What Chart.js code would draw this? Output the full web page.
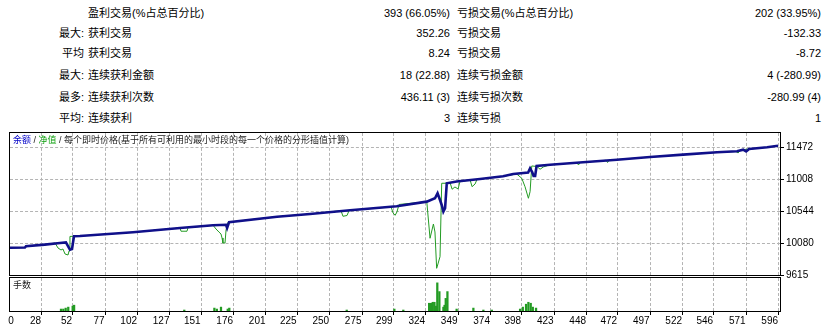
<!DOCTYPE html>
<html>
<head>
<meta charset="utf-8">
<title>测试报告</title>
<script src="https://cdn.jsdelivr.net/npm/chart.js@4.4.1/dist/chart.umd.min.js"></script>
<style>
  html, body { margin: 0; padding: 0; background: #fff; }
  body {
    position: relative; width: 830px; height: 331px; overflow: hidden;
    font-family: "Liberation Sans", "Noto Sans CJK SC", sans-serif; font-size: 11px; color: #000;
  }
  .cell { position: absolute; white-space: nowrap; line-height: 14px; }
  .gl { position: absolute; }
  canvas { position: absolute; left: 0; }
  #main { top: 120px; }
  #vol { top: 270px; }
  .tag { position: absolute; font-size: 9px; line-height: 11px; white-space: nowrap; color: #222; }
</style>
</head>
<body>
<div id="grid"></div>
<div id="stats"></div>
<canvas id="main" width="830" height="168"></canvas>
<canvas id="vol" width="830" height="61"></canvas>
<div class="tag" style="left:13px;top:135px"><span style="color:#0000c8">余额</span> / <span style="color:#10a010">净值</span> / 每个即时价格(基于所有可利用的最小时段的每一个价格的分形插值计算)</div>
<div class="tag" style="left:13px;top:280px">手数</div>
<script>
// summary table
const statPrefix = ['', '最大:', '平均', '最大:', '最多:', '平均:'];
const winLabels = ['盈利交易(%占总百分比)', '获利交易', '获利交易', '连续获利金额', '连续获利次数', '连续获利'];
const winValues = ['393 (66.05%)', '352.26', '8.24', '18 (22.88)', '436.11 (3)', '3'];
const lossLabels = ['亏损交易(%占总百分比)', '亏损交易', '亏损交易', '连续亏损金额', '连续亏损次数', '连续亏损'];
const lossValues = ['202 (33.95%)', '-132.33', '-8.72', '4 (-280.99)', '-280.99 (4)', '1'];

// balance / equity curve (trade number -> account value)
const balanceTrades = [4.1, 15.6, 16.4, 30.9, 42.6, 47.2, 50.3, 51.9, 53.4, 58.0, 98.9, 135.1, 160.6, 170.6, 171.4, 172.9,
  209.9, 235.3, 266.2, 302.1, 325.3, 331.6, 333.6, 335.5, 336.8, 338.1, 339.4, 340.7, 348.3, 366.3, 384.1, 391.9,
  403.4, 404.9, 406.5, 407.6, 408.8, 409.9, 420.3, 445.7, 471.9, 497.4, 522.8, 549.0, 564.4, 569.1, 571.4, 573.7,
  587.6, 596.0];
const balanceValues = [10010, 10014, 10031, 10055, 10079, 10087, 9982, 9992, 10177, 10181, 10235, 10297, 10336, 10343, 10297, 10380,
  10461, 10500, 10554, 10612, 10679, 10728, 10800, 10703, 10631, 10534, 10583, 10946, 10972, 11008, 11047, 11080,
  11102, 11163, 11109, 11051, 11051, 11196, 11215, 11250, 11288, 11327, 11361, 11395, 11410, 11433, 11407, 11443,
  11468, 11491];

const equityTrades = [4.1, 15.6, 16.4, 30.9, 38.8, 41.1, 43.4, 44.9, 46.5, 48.8, 49.6, 50.3, 53.4, 58.0, 98.9, 135.1,
  135.9, 140.5, 141.3, 160.6, 162.9, 165.1, 166.7, 167.5, 168.2, 169.8, 170.6, 172.1, 209.9, 235.3, 259.2, 260.7,
  263.8, 265.5, 297.8, 299.3, 300.9, 302.3, 303.9, 325.3, 327.8, 330.4, 331.6, 332.9, 333.9, 335.5, 336.8, 340.7,
  343.2, 344.8, 347.0, 349.4, 350.9, 358.7, 360.2, 362.5, 364.0, 384.1, 394.6, 398.5, 401.0, 403.6, 404.9, 406.2,
  410.2, 412.6, 415.1, 420.3, 441.1, 442.2, 443.4, 463.5, 464.6, 465.8, 497.4, 522.8, 549.0, 563.6, 565.2, 566.7,
  569.1, 573.7, 587.6, 596.0];
const equityValues = [10010, 10014, 10031, 10055, 10079, 10007, 9978, 9992, 9920, 9905, 9963, 10174, 10177, 10181, 10235, 10297,
  10250, 10250, 10304, 10336, 10282, 10239, 10210, 10152, 10079, 10079, 10268, 10380, 10461, 10500, 10548, 10467,
  10478, 10554, 10602, 10515, 10481, 10529, 10638, 10679, 10148, 10355, 10239, 9712, 9775, 9881, 10946, 10946,
  10957, 10859, 10892, 10863, 10972, 10993, 10896, 10935, 11001, 11047, 11080, 11018, 10896, 10728, 10824, 11197,
  11189, 11149, 11182, 11215, 11243, 11211, 11246, 11279, 11247, 11281, 11327, 11361, 11395, 11407, 11385, 11421,
  11433, 11443, 11468, 11491];

// lots per trade
const volumeTrades = [43.4, 45.2, 47.0, 49.0, 52.4, 53.5, 138.4, 161.6, 163.5, 166.7, 171.9, 173.1, 263.6, 300.3, 307.2,
  327.1, 328.6, 329.9, 331.2, 332.5, 333.4, 335.0, 338.1, 339.0, 339.9, 341.2, 348.3, 361.2, 368.9, 375.4,
  397.2, 399.3, 401.8, 403.6, 405.4, 407.0, 409.5];
const volumeLots = [0.02, 0.02, 0.03, 0.04, 0.05, 0.06, 0.01, 0.03, 0.02, 0.04, 0.02, 0.03, 0.01, 0.02, 0.01,
  0.08, 0.08, 0.09, 0.09, 0.05, 0.29, 0.20, 0.04, 0.06, 0.13, 0.20, 0.02, 0.03, 0.01, 0.01,
  0.02, 0.04, 0.07, 0.09, 0.08, 0.04, 0.03];

const xTickLabels = [0, 28, 52, 77, 102, 127, 151, 176, 201, 225, 250, 275, 299, 324, 349, 374, 398, 423, 448, 472, 497, 522, 546, 571, 596];
const yTickValues = [9615, 10080, 10544, 11008, 11472];

const xMin = 4.1, xMax = 597.5;
const gridGray = '#b4b4b4';
const axisFont = { family: 'Liberation Sans', size: 10 };

// table
const stats = document.getElementById('stats');
const rowMid = [13, 33, 53, 75, 97, 118];
function cell(text, y, left, right) {
  const d = document.createElement('div');
  d.className = 'cell';
  d.textContent = text;
  d.style.top = y + 'px';
  if (left != null) d.style.left = left + 'px';
  else { d.style.right = (830 - right) + 'px'; d.style.textAlign = 'right'; }
  stats.appendChild(d);
}
statPrefix.forEach((p, i) => {
  const y = rowMid[i] - 7;
  if (p) cell(p, y, null, 84);
  cell(winLabels[i], y, 88);
  cell(winValues[i], y, null, 450);
  cell(lossLabels[i], y, 457);
  cell(lossValues[i], y, null, 821);
});

// black frame round each plot area
const framePlugin = {
  id: 'frame',
  afterDraw(chart) {
    const { ctx, chartArea: a } = chart;
    const l = Math.round(a.left), r = Math.round(a.right), t = Math.round(a.top), b = Math.round(a.bottom);
    ctx.save();
    ctx.fillStyle = '#000';
    ctx.fillRect(l - 1, t - 1, r - l + 2, 1);
    ctx.fillRect(l - 1, b, r - l + 2, 1);
    ctx.fillRect(l - 1, t - 1, 1, b - t + 2);
    ctx.fillRect(r, t - 1, 1, b - t + 2);
    ctx.restore();
  }
};

function tradeTicks(scale) {
  scale.ticks = xTickLabels.map((v, i) => ({ value: i === 0 ? scale.min + 3 : v }));
}

const toPoints = (xs, ys) => xs.map((x, i) => ({ x: x, y: ys[i] }));

const mainChart = new Chart(document.getElementById('main'), {
  type: 'line',
  data: {
    datasets: [
      {
        label: '余额',
        data: toPoints(balanceTrades, balanceValues),
        borderColor: '#10108a',
        borderWidth: 2.6,
        pointRadius: 0,
        tension: 0
      },
      {
        label: '净值',
        data: toPoints(equityTrades, equityValues),
        borderColor: '#239b23',
        borderWidth: 1,
        pointRadius: 0,
        tension: 0
      }
    ]
  },
  options: {
    responsive: false,
    animation: false,
    events: [],
    layout: { padding: { left: 10, right: 0, top: 13, bottom: 13 } },
    plugins: { legend: { display: false }, tooltip: { enabled: false } },
    scales: {
      x: {
        type: 'linear',
        min: xMin,
        max: xMax,
        ticks: { display: false },
        grid: { display: false, drawTicks: false },
        border: { display: false }
      },
      y: {
        position: 'right',
        min: 9615,
        max: 11675,
        afterBuildTicks: s => { s.ticks = yTickValues.map(v => ({ value: v })); },
        afterFit: s => { s.width = 50; },
        ticks: { color: '#000', font: axisFont, padding: 6, callback: v => String(v) },
        grid: { display: false, drawTicks: false },
        border: { display: false }
      }
    }
  },
  plugins: [framePlugin]
});

const volChart = new Chart(document.getElementById('vol'), {
  type: 'bar',
  data: {
    datasets: [{
      label: '手数',
      data: toPoints(volumeTrades, volumeLots),
      backgroundColor: '#239b23',
      borderWidth: 0,
      barThickness: 1.6
    }]
  },
  options: {
    responsive: false,
    animation: false,
    events: [],
    layout: { padding: { left: 10, right: 50, top: 8, bottom: 0 } },
    plugins: { legend: { display: false }, tooltip: { enabled: false } },
    scales: {
      x: {
        type: 'linear',
        min: xMin,
        max: xMax,
        offset: false,
        afterBuildTicks: tradeTicks,
        afterFit: s => { s.height = 20; },
        ticks: {
          callback: (v, i) => String(xTickLabels[i]),
          align: 'end', maxRotation: 0, autoSkip: false, padding: 4,
          color: '#000', font: axisFont
        },
        grid: { display: false, drawTicks: false, offset: false },
        border: { display: false }
      },
      y: { display: false, min: 0, max: 0.34 }
    }
  },
  plugins: [framePlugin]
});

// dashed grid and tick marks, laid under the transparent canvases at the scales' pixel positions
const gridLayer = document.getElementById('grid');
function mark(css) {
  const d = document.createElement('div');
  d.className = 'gl';
  d.style.cssText += css;
  gridLayer.appendChild(d);
}
function addGrid(chart, canvasTop, withRows, tickSide) {
  const a = chart.chartArea;
  const t = Math.round(a.top), b = Math.round(a.bottom), l = Math.round(a.left), r = Math.round(a.right);
  xTickLabels.slice(1).forEach(v => {
    const x = Math.round(chart.scales.x.getPixelForValue(v));
    mark(`left:${x}px;top:${canvasTop + t}px;width:0;height:${b - t}px;border-left:1px dashed ${gridGray};`);
    if (tickSide === 'bottom') mark(`left:${x}px;top:${canvasTop + b + 1}px;width:1px;height:3px;background:#000;`);
  });
  if (withRows) {
    yTickValues.forEach(v => {
      const y = Math.round(chart.scales.y.getPixelForValue(v));
      if (y < b - 1) mark(`left:${l}px;top:${canvasTop + y}px;width:${r - l}px;height:0;border-top:1px dashed ${gridGray};`);
      mark(`left:${r + 1}px;top:${canvasTop + y}px;width:3px;height:1px;background:#000;`);
    });
  }
}
addGrid(mainChart, 120, true, null);
addGrid(volChart, 270, false, 'bottom');
</script>
</body>
</html>
